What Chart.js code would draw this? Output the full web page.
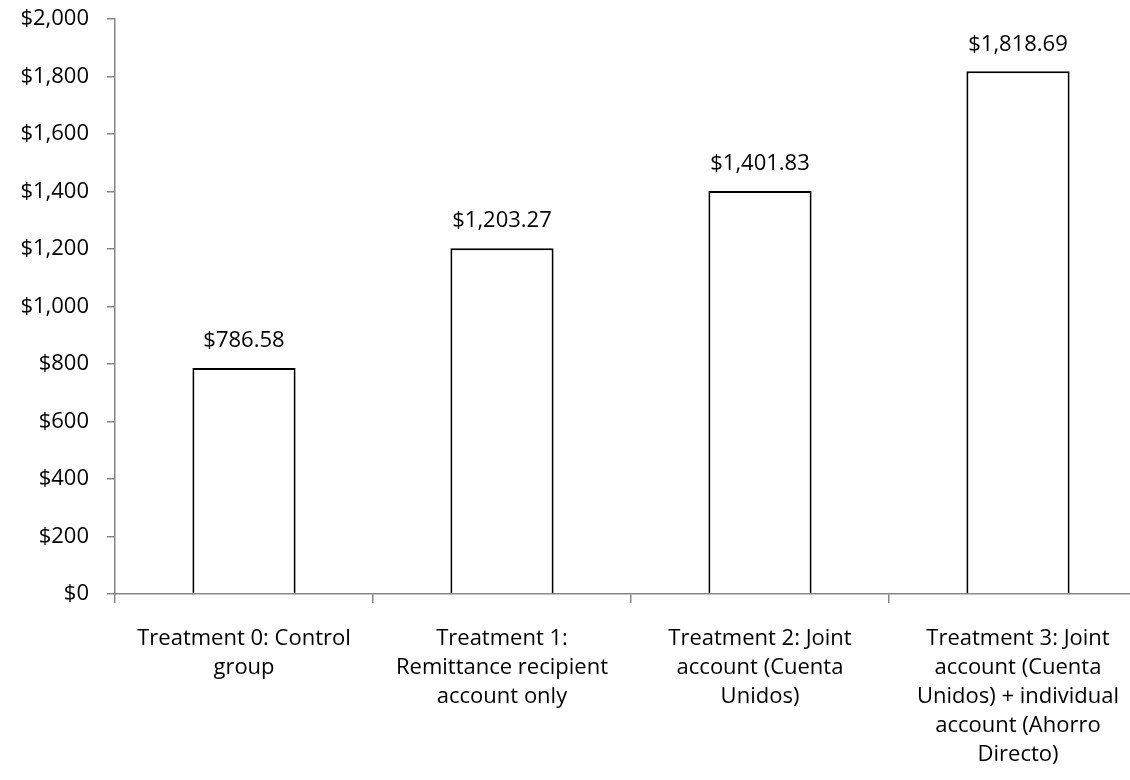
<!DOCTYPE html>
<html>
<head>
<meta charset="utf-8">
<script src="https://cdn.jsdelivr.net/npm/chart.js@4"></script>
<style>
  html, body { margin: 0; padding: 0; background: #fff; overflow: hidden; }
  #wrap { width: 1150px; height: 792px; margin-top: -12px; }
</style>
</head>
<body>
<div id="wrap"><canvas id="myChart"></canvas></div>
<script>
// categories (split into the lines they wrap on)
const treatments = [
    ['Treatment 0: Control', 'group'],
    ['Treatment 1:', 'Remittance recipient', 'account only'],
    ['Treatment 2: Joint', 'account (Cuenta', 'Unidos)'],
    ['Treatment 3: Joint', 'account (Cuenta', 'Unidos) + individual', 'account (Ahorro', 'Directo)']
];
const savings = [786.58, 1203.27, 1401.83, 1818.69];
const yTicks = [0, 200, 400, 600, 800, 1000, 1200, 1400, 1600, 1800, 2000];

const axisGrey = '#868686';
const fontFamily = '"Open Sans", "Noto Sans", sans-serif';
const fontSize = 22;

function money(v, dec) {
    return '$' + v.toLocaleString('en-US', { minimumFractionDigits: dec, maximumFractionDigits: dec });
}

// writes the value over each bar
const valueLabels = {
    id: 'valueLabels',
    afterDatasetsDraw(chart) {
        const ctx = chart.ctx;
        const meta = chart.getDatasetMeta(0);
        ctx.save();
        ctx.font = fontSize + 'px ' + fontFamily;
        ctx.fillStyle = '#000';
        ctx.textAlign = 'center';
        ctx.textBaseline = 'middle';
        meta.data.forEach((bar, i) => {
            ctx.fillText(money(savings[i], 2), bar.x, bar.y - 27);
        });
        ctx.restore();
    }
};

Chart.defaults.font.family = fontFamily;
Chart.defaults.color = '#000';

var ctx = document.getElementById('myChart');
var myChart = new Chart(ctx, {
    type: 'bar',
    data: {
        labels: treatments,
        datasets: [{
            data: savings,
            backgroundColor: '#ffffff',
            borderColor: '#000000',
            borderWidth: 2,
            barPercentage: 0.4,
            categoryPercentage: 1.0
        }]
    },
    options: {
        responsive: true,
        maintainAspectRatio: false,
        animation: false,
        layout: { padding: { top: 0, right: 3, left: 0, bottom: 0 } },
        plugins: { legend: { display: false }, tooltip: { enabled: false } },
        scales: {
            x: {
                offset: true,
                grid: {
                    offset: true,
                    drawOnChartArea: false,
                    color: axisGrey,
                    lineWidth: 1.5,
                    tickLength: 9
                },
                border: { color: axisGrey, width: 1.5 },
                ticks: {
                    font: { size: fontSize, lineHeight: 29 / fontSize },
                    padding: 21,
                    maxRotation: 0,
                    autoSkip: false
                },
                afterFit(scale) { scale.height = 186; }
            },
            y: {
                min: 0,
                max: 2000,
                afterBuildTicks(scale) { scale.ticks = yTicks.map(v => ({ value: v })); },
                grid: {
                    drawOnChartArea: false,
                    color: axisGrey,
                    lineWidth: 1.5,
                    tickLength: 8
                },
                border: { color: axisGrey, width: 1.5 },
                ticks: {
                    font: { size: fontSize },
                    padding: 18,
                    callback: v => money(v, 0)
                },
                afterFit(scale) { scale.width = 115; }
            }
        }
    },
    plugins: [valueLabels]
});
</script>
</body>
</html>
